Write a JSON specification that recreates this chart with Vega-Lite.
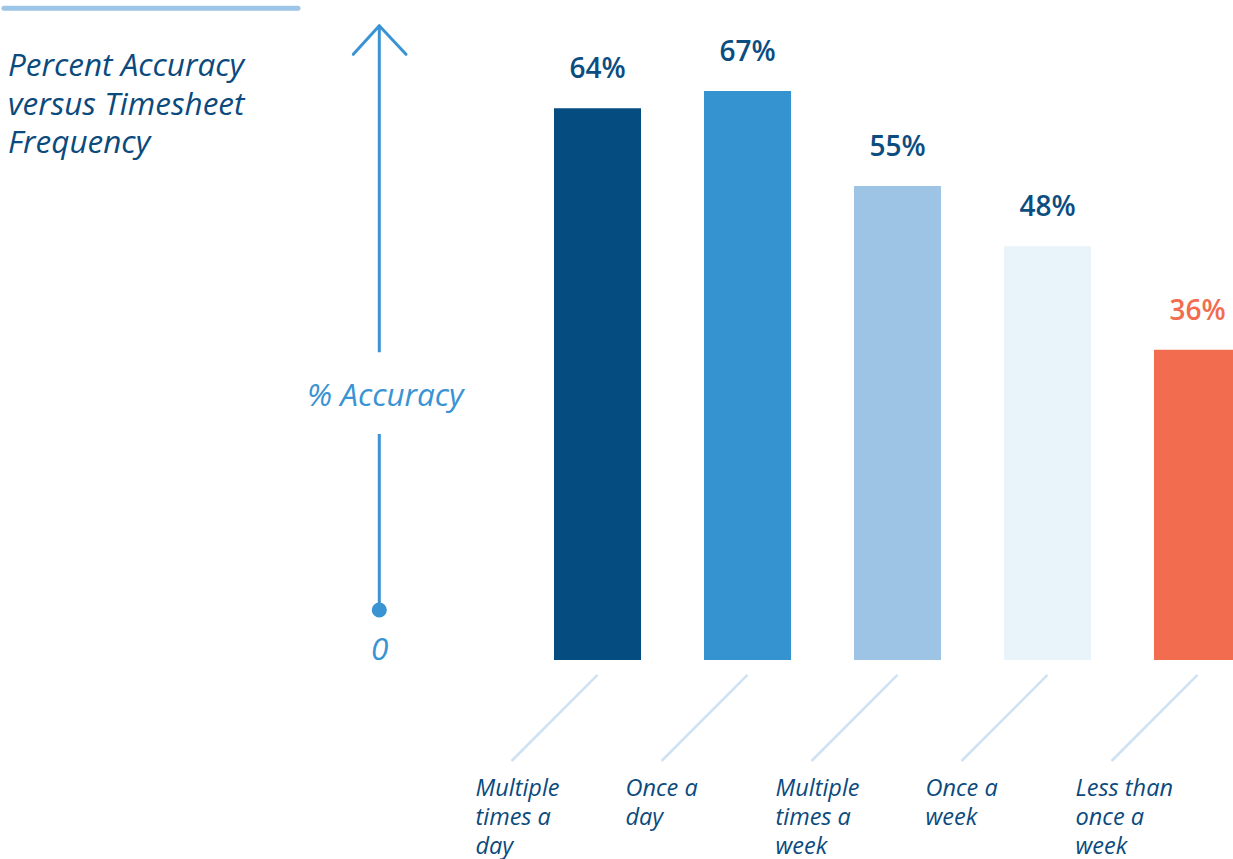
{
  "$schema": "https://vega.github.io/schema/vega-lite/v6.json",
  "width": 1233,
  "height": 859,
  "padding": 0,
  "autosize": {"type": "none"},
  "background": "white",
  "config": {"view": {"stroke": null}, "font": "Open Sans"},
  "datasets": {
    "bars": [
      {"rank": 1, "frequency": "Multiple times a day", "axisLabel": "Multiple\ntimes a\nday", "accuracy": 64, "label": "64%"},
      {"rank": 2, "frequency": "Once a day", "axisLabel": "Once a\nday", "accuracy": 66, "label": "67%"},
      {"rank": 3, "frequency": "Multiple times a week", "axisLabel": "Multiple\ntimes a\nweek", "accuracy": 55, "label": "55%"},
      {"rank": 4, "frequency": "Once a week", "axisLabel": "Once a\nweek", "accuracy": 48, "label": "48%"},
      {"rank": 5, "frequency": "Less than once a week", "axisLabel": "Less than\nonce a\nweek", "accuracy": 36, "label": "36%"}
    ],
    "titles": [
      {"title": "Percent Accuracy\nversus Timesheet\nFrequency", "yTitle": "% Accuracy", "zero": "0"}
    ]
  },
  "layer": [
    {
      "data": {"name": "titles"},
      "mark": {"type": "rule", "color": "#9dc5e7", "strokeWidth": 5, "strokeCap": "round"},
      "encoding": {
        "x": {"datum": -2.957, "type": "quantitative", "scale": {"domain": [-2.98333, 5.23667], "nice": false, "zero": false, "padding": 0}, "axis": null},
        "x2": {"datum": -0.9967},
        "y": {"datum": 75.6, "type": "quantitative", "scale": {"domain": [-23.09, 76.57], "nice": false, "zero": false, "padding": 0}, "axis": null}
      }
    },
    {
      "data": {"name": "titles"},
      "mark": {"type": "text", "align": "left", "baseline": "alphabetic", "fontSize": 31.5, "fontStyle": "italic", "color": "#0b4a7d", "lineBreak": "\n", "lineHeight": 38.5},
      "encoding": {
        "x": {"datum": -2.93, "type": "quantitative"},
        "y": {"datum": 67.75, "type": "quantitative"},
        "text": {"field": "title"}
      }
    },
    {
      "data": {"name": "titles"},
      "mark": {"type": "rule", "color": "#3a93d3", "strokeWidth": 3},
      "encoding": {
        "x": {"datum": -0.4547, "type": "quantitative"},
        "y": {"datum": 73.5, "type": "quantitative"},
        "y2": {"datum": 35.7}
      }
    },
    {
      "data": {"name": "titles"},
      "mark": {"type": "rule", "color": "#3a93d3", "strokeWidth": 3, "strokeCap": "round"},
      "encoding": {
        "x": {"datum": -0.628, "type": "quantitative"},
        "x2": {"datum": -0.4547},
        "y": {"datum": 70.27, "type": "quantitative"},
        "y2": {"datum": 73.58}
      }
    },
    {
      "data": {"name": "titles"},
      "mark": {"type": "rule", "color": "#3a93d3", "strokeWidth": 3, "strokeCap": "round"},
      "encoding": {
        "x": {"datum": -0.2767, "type": "quantitative"},
        "x2": {"datum": -0.4547},
        "y": {"datum": 70.27, "type": "quantitative"},
        "y2": {"datum": 73.58}
      }
    },
    {
      "data": {"name": "titles"},
      "mark": {"type": "rule", "color": "#3a93d3", "strokeWidth": 3},
      "encoding": {
        "x": {"datum": -0.4547, "type": "quantitative"},
        "y": {"datum": 26.22, "type": "quantitative"},
        "y2": {"datum": 5.8}
      }
    },
    {
      "data": {"name": "titles"},
      "mark": {"type": "point", "shape": "circle", "filled": true, "opacity": 1, "size": 227, "color": "#3a93d3"},
      "encoding": {
        "x": {"datum": -0.4547, "type": "quantitative"},
        "y": {"datum": 5.8, "type": "quantitative"}
      }
    },
    {
      "data": {"name": "titles"},
      "mark": {"type": "text", "align": "center", "baseline": "alphabetic", "fontSize": 31.5, "fontStyle": "italic", "color": "#3a93d3"},
      "encoding": {
        "x": {"datum": -0.4147, "type": "quantitative"},
        "y": {"datum": 29.47, "type": "quantitative"},
        "text": {"field": "yTitle"}
      }
    },
    {
      "data": {"name": "titles"},
      "mark": {"type": "text", "align": "center", "baseline": "alphabetic", "fontSize": 31.5, "fontStyle": "italic", "color": "#3a93d3"},
      "encoding": {
        "x": {"datum": -0.452, "type": "quantitative"},
        "y": {"datum": 0, "type": "quantitative"},
        "text": {"field": "zero"}
      }
    },
    {
      "data": {"name": "bars"},
      "mark": {"type": "bar", "width": 87},
      "encoding": {
        "x": {"field": "rank", "type": "quantitative"},
        "y": {"field": "accuracy", "type": "quantitative"},
        "y2": {"datum": 0},
        "color": {
          "field": "frequency",
          "type": "nominal",
          "scale": {
            "domain": ["Multiple times a day", "Once a day", "Multiple times a week", "Once a week", "Less than once a week"],
            "range": ["#054c80", "#3593d0", "#9dc4e5", "#e8f3fa", "#f26c4f"]
          },
          "legend": null
        }
      }
    },
    {
      "data": {"name": "bars"},
      "mark": {"type": "text", "align": "center", "baseline": "alphabetic", "dy": -30, "fontSize": 28, "fontWeight": 600},
      "encoding": {
        "x": {"field": "rank", "type": "quantitative"},
        "y": {"field": "accuracy", "type": "quantitative"},
        "text": {"field": "label"},
        "color": {"condition": {"test": "datum.rank === 5", "value": "#f26c4f"}, "value": "#0b4d80"}
      }
    },
    {
      "data": {"name": "bars"},
      "mark": {"type": "rule", "color": "#cfe2f3", "strokeWidth": 2.5, "x2Offset": -86},
      "encoding": {
        "x": {"field": "rank", "type": "quantitative"},
        "x2": {"field": "rank"},
        "y": {"datum": -1.74, "type": "quantitative"},
        "y2": {"datum": -11.72}
      }
    },
    {
      "data": {"name": "bars"},
      "mark": {"type": "text", "align": "left", "baseline": "alphabetic", "dx": -122, "fontSize": 23.5, "fontStyle": "italic", "color": "#0b4a7d", "lineBreak": "\n", "lineHeight": 29},
      "encoding": {
        "x": {"field": "rank", "type": "quantitative"},
        "y": {"datum": -15.78, "type": "quantitative"},
        "text": {"field": "axisLabel"}
      }
    }
  ]
}
